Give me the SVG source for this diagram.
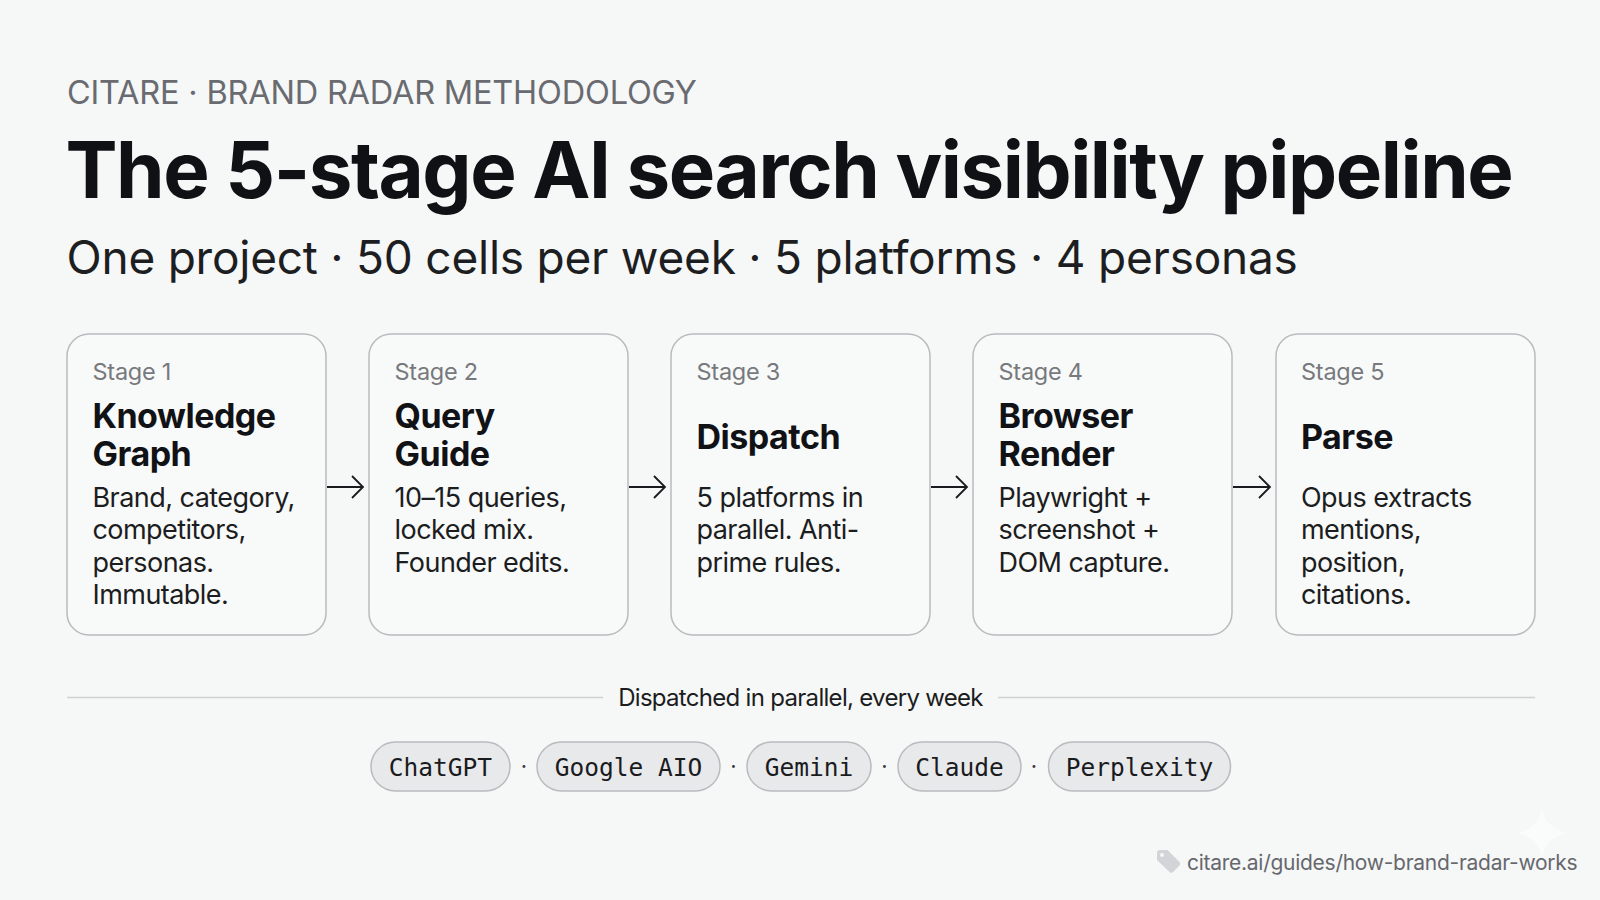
<svg xmlns="http://www.w3.org/2000/svg" width="1600" height="900" viewBox="0 0 1600 900">
<style>
text{font-family:Inter,"Noto Sans",sans-serif}
.card{fill:#f8f9f9;stroke:#b9bbbe;stroke-width:1.5}
.st{font-size:23.500px;fill:#77797d;letter-spacing:-.25px}
.nm{font-size:34px;font-weight:700;fill:#111216;letter-spacing:-.5px}
.bd{font-size:27px;fill:#1c1d21;letter-spacing:-.55px}
.pill{fill:#e8e9ea;stroke:#b9bbbe;stroke-width:1.5}
.mono{font-family:"DejaVu Sans Mono","Liberation Mono",monospace;font-size:24.500px;fill:#1a1b1e;text-anchor:middle}
.dot{font-size:22px;fill:#3a3b3f;text-anchor:middle}
.arr{fill:none;stroke:#1a1b1e;stroke-width:1.8}
</style>
<rect width="1600" height="900" fill="#f6f7f7"/>
<text x="67" y="104" font-size="32.5" fill="#696b70" letter-spacing="-.2">CITARE · BRAND RADAR METHODOLOGY</text>
<text x="65.500" y="197.500" font-size="78" font-weight="700" fill="#101115" letter-spacing="-1.44">The 5-stage AI search visibility pipeline</text>
<text x="66.500" y="274" font-size="46" fill="#1d1e22" letter-spacing="-.23">One project · 50 cells per week · 5 platforms · 4 personas</text>

<g id="connectors">
<path class="arr" d="M327 487H363M352 476L363 487L352 498"/>
<path class="arr" d="M629 487H665M654 476L665 487L654 498"/>
<path class="arr" d="M931 487H967M956 476L967 487L956 498"/>
<path class="arr" d="M1233 487H1270M1259 476L1270 487L1259 498"/>
</g>

<g id="stage1"><rect class="card" x="67" y="334" width="259" height="301" rx="22"/>
<text class="st" x="92.500" y="380">Stage 1</text>
<text class="nm" x="92.500" y="428">Knowledge</text><text class="nm" x="92.500" y="466">Graph</text>
<text class="bd" x="92.500" y="507">Brand, category,</text><text class="bd" x="92.500" y="539">competitors,</text><text class="bd" x="92.500" y="572">personas.</text><text class="bd" x="92.500" y="604">Immutable.</text></g>
<g id="stage2"><rect class="card" x="369" y="334" width="259" height="301" rx="22"/>
<text class="st" x="394.500" y="380">Stage 2</text>
<text class="nm" x="394.500" y="428">Query</text><text class="nm" x="394.500" y="466">Guide</text>
<text class="bd" x="394.500" y="507">10–15 queries,</text><text class="bd" x="394.500" y="539">locked mix.</text><text class="bd" x="394.500" y="572">Founder edits.</text></g>
<g id="stage3"><rect class="card" x="671" y="334" width="259" height="301" rx="22"/>
<text class="st" x="696.500" y="380">Stage 3</text>
<text class="nm" x="696.500" y="449">Dispatch</text>
<text class="bd" x="696.500" y="507">5 platforms in</text><text class="bd" x="696.500" y="539">parallel. Anti-</text><text class="bd" x="696.500" y="572">prime rules.</text></g>
<g id="stage4"><rect class="card" x="973" y="334" width="259" height="301" rx="22"/>
<text class="st" x="998.500" y="380">Stage 4</text>
<text class="nm" x="998.500" y="428">Browser</text><text class="nm" x="998.500" y="466">Render</text>
<text class="bd" x="998.500" y="507">Playwright +</text><text class="bd" x="998.500" y="539">screenshot +</text><text class="bd" x="998.500" y="572">DOM capture.</text></g>
<g id="stage5"><rect class="card" x="1276" y="334" width="259" height="301" rx="22"/>
<text class="st" x="1301" y="380">Stage 5</text>
<text class="nm" x="1301" y="449">Parse</text>
<text class="bd" x="1301" y="507">Opus extracts</text><text class="bd" x="1301" y="539">mentions,</text><text class="bd" x="1301" y="572">position,</text><text class="bd" x="1301" y="604">citations.</text></g>

<g id="divider">
<path d="M67 697.500H603M998 697.500H1535" stroke="#cfd1d3" stroke-width="1.5" fill="none"/>
<text x="800.500" y="706" font-size="24" fill="#1c1d21" text-anchor="middle" letter-spacing="-.7">Dispatched in parallel, every week</text>
</g>

<g id="chatgpt"><rect class="pill" x="371" y="742" width="139" height="49" rx="24.500"/><text class="mono" x="440.500" y="776">ChatGPT</text></g>
<text class="dot" x="524" y="774">·</text>
<g id="google"><rect class="pill" x="537" y="742" width="183" height="49" rx="24.500"/><text class="mono" x="628.500" y="776">Google AIO</text></g>
<text class="dot" x="733.500" y="774">·</text>
<g id="gemini"><rect class="pill" x="747" y="742" width="124" height="49" rx="24.500"/><text class="mono" x="809" y="776">Gemini</text></g>
<text class="dot" x="884.500" y="774">·</text>
<g id="claude"><rect class="pill" x="898" y="742" width="123" height="49" rx="24.500"/><text class="mono" x="959.500" y="776">Claude</text></g>
<text class="dot" x="1034" y="774">·</text>
<g id="perplexity"><rect class="pill" x="1048.500" y="742" width="182" height="49" rx="24.500"/><text class="mono" x="1139.500" y="776">Perplexity</text></g>

<g id="footer">
<path d="M1157 853a3 3 0 0 1 3-3h7.500l12 12a2.500 2.500 0 0 1 0 3.500l-6.500 6.500a2.500 2.500 0 0 1-3.500 0l-12.500-12z" fill="#d3d4d7"/>
<circle cx="1162" cy="855" r="2" fill="#f6f7f7"/>
<text x="1187" y="869.500" font-size="21" fill="#66686d" letter-spacing="-.27">citare.ai/guides/how-brand-radar-works</text>
<path d="M1542 808Q1545 828 1567 833Q1545 838 1542 858Q1539 838 1517 833Q1539 828 1542 808Z" fill="#fafbfb"/>
</g>
</svg>
